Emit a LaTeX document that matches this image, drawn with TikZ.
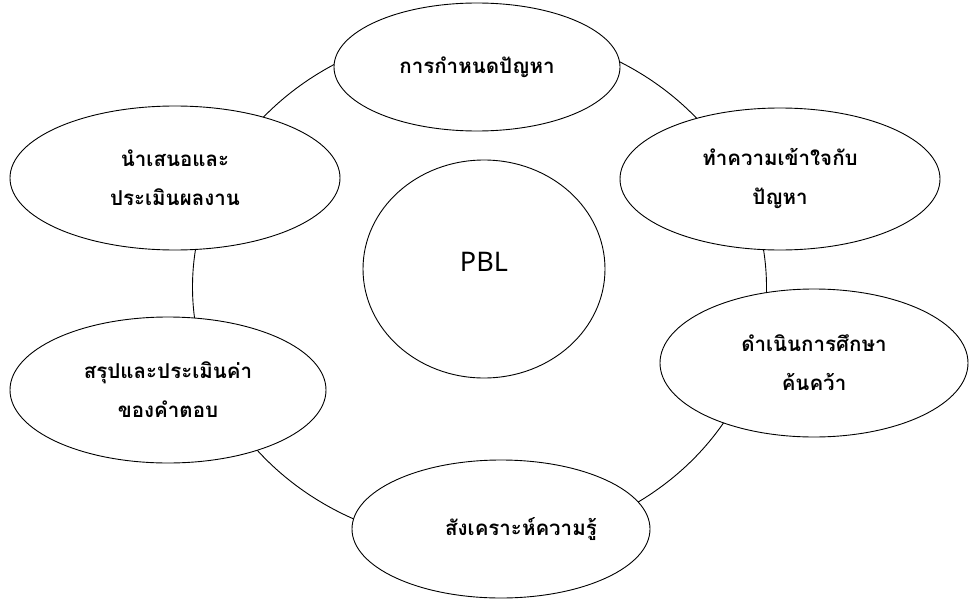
\documentclass[tikz,border=0pt]{standalone}
\usepackage{fontspec}
\newfontfamily\thaifont[Script=Thai]{Loma}
\newfontfamily\pblfont{Noto Sans}
\usetikzlibrary{shapes.geometric}

\begin{document}
\begin{tikzpicture}[
    x=1pt, y=-1pt,
    every node/.style={draw, line width=0.9pt},
    cycle ring/.style={ellipse, minimum width=574pt, minimum height=516pt},
    stage/.style={ellipse, fill=white, inner sep=0pt, align=center, font=\thaifont\bfseries\fontsize{20.5}{39}\selectfont},
    hub/.style={ellipse, fill=white, inner sep=0pt, minimum width=242pt, minimum height=218pt, font=\pblfont\fontsize{27}{32}\selectfont}
]
\useasboundingbox (0,0) rectangle (969,602);

% ring behind the stages
\node[cycle ring] (ring) at (479.5,287) {};

% stages
\node[stage, minimum width=286pt, minimum height=128pt] (define) at (477,67) {\raisebox{3pt}{การกำหนดปัญหา}};
\node[stage, minimum width=320pt, minimum height=142pt] (understand) at (780,179) {ทำความเข้าใจกับ\\ปัญหา};
\node[stage, minimum width=308pt, minimum height=148pt] (research) at (814,363) {ดำเนินการศึกษา\\ค้นคว้า};
\node[stage, minimum width=298pt, minimum height=138pt] (synthesize) at (501,529) {\hspace*{40pt}\raisebox{4pt}{สังเคราะห์ความรู้}};
\node[stage, minimum width=316pt, minimum height=146pt] (conclude) at (168,390) {สรุปและประเมินค่า\\ของคำตอบ};
\node[stage, minimum width=330pt, minimum height=144pt] (present) at (175,178) {นำเสนอและ\\ประเมินผลงาน};

% centre
\node[hub] (pbl) at (484,269) {\raisebox{-2pt}[0pt][0pt]{PBL}};

\end{tikzpicture}
\end{document}
